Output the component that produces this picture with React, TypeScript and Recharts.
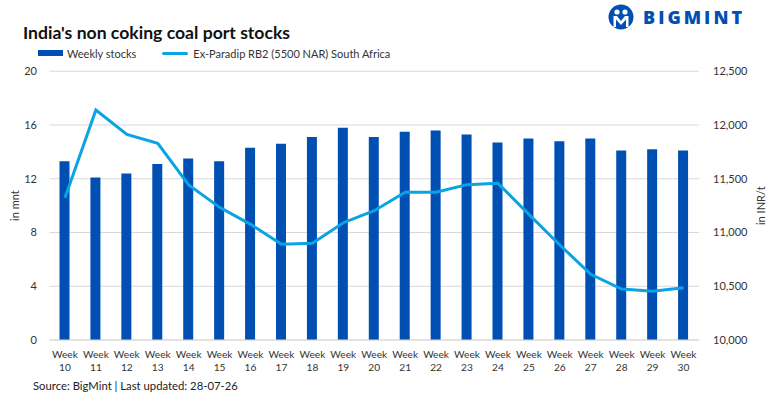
import React from 'react';
import { ComposedChart, Bar, Line, XAxis, YAxis, CartesianGrid, Label } from 'recharts';

const weeks = ['10','11','12','13','14','15','16','17','18','19','20','21','22','23','24','25','26','27','28','29','30'];
const weeklyStocks = [13.3,12.1,12.4,13.1,13.5,13.3,14.3,14.6,15.1,15.8,15.1,15.5,15.6,15.3,14.7,15.0,14.8,15.0,14.1,14.2,14.1];
const paradipPrice = [11324,12140,11913,11830,11442,11234,11076,10890,10900,11091,11203,11374,11374,11445,11457,11169,10884,10611,10474,10453,10487];
const leftTicks = [0,4,8,12,16,20];
const rightTicks = [10000,10500,11000,11500,12000,12500];

const data = weeks.map((w, i) => ({ week: w, stocks: weeklyStocks[i], price: paradipPrice[i] }));

const BAR = '#0050B4';
const LINE = '#0AA3E3';
const FONT = 'Lato, "Open Sans", sans-serif';

const WeekTick = (props: any) => {
  const { x, y, payload } = props;
  return (
    <text x={x} y={y} textAnchor="middle" fill="#333" fontSize={10.2} fontFamily={FONT}>
      <tspan x={x} dy={10}>Week</tspan>
      <tspan x={x} dy={13}>{payload.value}</tspan>
    </text>
  );
};

export default function App() {
  return (
    <div style={{ position: 'absolute', left: 0, top: 0, width: 779, height: 400, background: '#fff', fontFamily: FONT }}>
      <ComposedChart width={779} height={400} data={data} margin={{ top: 71.25, right: 0, left: 0, bottom: 30 }}>
        <CartesianGrid vertical={false} stroke="#d9d9d9" yAxisId="left" />
        <XAxis dataKey="week" height={30} tick={<WeekTick />} tickLine={false} axisLine={{ stroke: '#d9d9d9' }} interval={0} />
        <YAxis yAxisId="left" width={49.5} domain={[0, 20]} ticks={leftTicks} tickLine={false} axisLine={false} tickMargin={6.5}
          tick={{ fill: '#333', fontSize: 11, fontFamily: FONT }}>
          <Label value="in mnt" angle={-90} position="insideLeft" offset={15} style={{ fill: '#333', fontSize: 11, fontFamily: FONT, textAnchor: 'middle' }} />
        </YAxis>
        <YAxis yAxisId="right" orientation="right" width={80} domain={[10000, 12500]} ticks={rightTicks} tickLine={false} axisLine={false} tickMargin={8}
          tickFormatter={(v: number) => v.toLocaleString('en-US')}
          tick={{ fill: '#333', fontSize: 11, fontFamily: FONT, textAnchor: 'start' }}>
          <Label value="in INR/t" angle={-90} position="insideRight" offset={18} style={{ fill: '#333', fontSize: 11, fontFamily: FONT, textAnchor: 'middle' }} />
        </YAxis>
        <Bar yAxisId="left" dataKey="stocks" fill={BAR} barSize={10} isAnimationActive={false} />
        <Line yAxisId="right" dataKey="price" stroke={LINE} strokeWidth={3} dot={false} type="linear" isAnimationActive={false} />
      </ComposedChart>

      <div style={{ position: 'absolute', left: 23, top: 22, fontSize: 17.6, fontWeight: 700, color: '#111', whiteSpace: 'nowrap' }}>
        India's non coking coal port stocks
      </div>

      <div style={{ position: 'absolute', left: 38, top: 45, height: 16, display: 'flex', alignItems: 'center', fontSize: 11, color: '#333', whiteSpace: 'nowrap' }}>
        <span style={{ display: 'inline-block', width: 25, height: 6, background: BAR, marginRight: 4 }} />
        <span>Weekly stocks</span>
        <span style={{ display: 'inline-block', width: 26, height: 3, background: LINE, marginLeft: 26, marginRight: 5, borderRadius: 1.5 }} />
        <span>Ex-Paradip RB2 (5500 NAR) South Africa</span>
      </div>

      <div style={{ position: 'absolute', left: 33, top: 379, fontSize: 11.3, color: '#222', whiteSpace: 'nowrap' }}>
        Source: BigMint | Last updated: 28-07-26
      </div>

      <div style={{ position: 'absolute', left: 608, top: 4, display: 'flex', alignItems: 'center' }}>
        <svg width={26} height={26} viewBox="0 0 26 26">
          <circle cx={13} cy={13} r={12.5} fill="#0050B4" />
          <circle cx={9} cy={8} r={2.6} fill="#fff" />
          <circle cx={17} cy={8} r={2.6} fill="#fff" />
          <path d="M5.5 12 L9 12 L13 17 L17 12 L20.5 12 L20.5 23 L18 23 L18 15.5 L13 21 L8 15.5 L8 23 L5.5 23 Z" fill="#fff" />
        </svg>
        <span style={{ marginLeft: 9, fontSize: 18, fontWeight: 900, color: '#0050B4', letterSpacing: 3, fontFamily: '"Open Sans", Lato, sans-serif' }}>BIGMINT</span>
      </div>
    </div>
  );
}
